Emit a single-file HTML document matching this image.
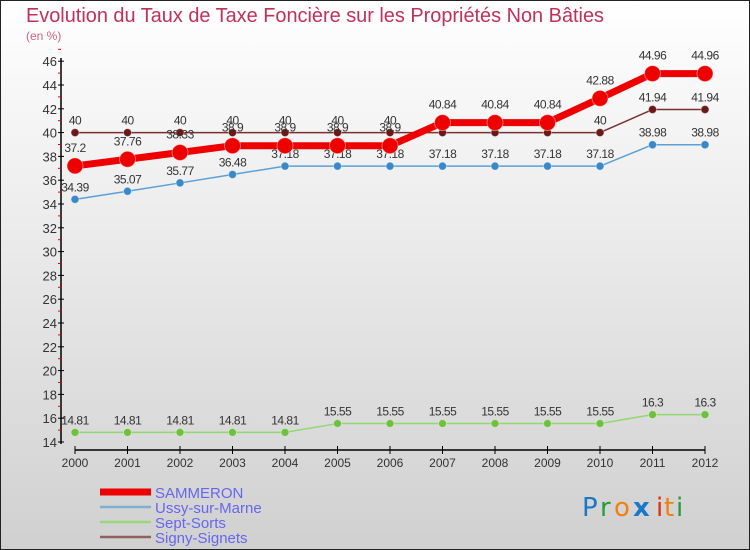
<!DOCTYPE html>
<html><head><meta charset="utf-8"><style>
html,body{margin:0;padding:0}
body{width:750px;height:550px;overflow:hidden;font-family:"Liberation Sans",sans-serif}
</style></head><body>
<svg id="chart" width="750" height="550" xmlns="http://www.w3.org/2000/svg" style="display:block">
<defs><linearGradient id="bg" x1="0" y1="0" x2="0" y2="1"><stop offset="0" stop-color="#ffffff"/><stop offset="1" stop-color="#d0d0d0"/></linearGradient></defs>
<rect x="0.5" y="0.5" width="749" height="549" fill="url(#bg)" stroke="#222"/>
<text x="26" y="22" font-size="20" fill="#c0305a" textLength="578" lengthAdjust="spacingAndGlyphs">Evolution du Taux de Taxe Foncière sur les Propriétés Non Bâties</text>
<text x="26" y="40" font-size="12" fill="#d06080">(en %)</text>
<g id="axes"></g><g id="series"></g><g id="legend"></g>
<g font-size="26" font-family="'DejaVu Sans',sans-serif">
<text x="582" y="516" fill="#1a78c8">P</text><text x="600" y="516" fill="#2a9a3a">r</text><text x="614" y="516" fill="#f08010">o</text><text x="633" y="516" fill="#1a78c8" font-weight="bold">x</text><text x="656" y="516" fill="#e03010">i</text><text x="664" y="516" fill="#f08010">t</text><text x="676" y="516" fill="#2a9a3a">i</text>
</g>
</svg>
<script>
const years=[2000,2001,2002,2003,2004,2005,2006,2007,2008,2009,2010,2011,2012];
const sammeron=[37.2,37.76,38.33,38.9,38.9,38.9,38.9,40.84,40.84,40.84,42.88,44.96,44.96];
const ussy=[34.39,35.07,35.77,36.48,37.18,37.18,37.18,37.18,37.18,37.18,37.18,38.98,38.98];
const sept=[14.81,14.81,14.81,14.81,14.81,15.55,15.55,15.55,15.55,15.55,15.55,16.3,16.3];
const signy=[40,40,40,40,40,40,40,40,40,40,40,41.94,41.94];
const yTicks=[14,16,18,20,22,24,26,28,30,32,34,36,38,40,42,44,46];
const NS="http://www.w3.org/2000/svg";
const x=i=>75+i*52.5;
const y=v=>442-(v-14)*11.9;
function mk(tag,attrs,parent){const e=document.createElementNS(NS,tag);for(const k in attrs)e.setAttribute(k,attrs[k]);parent.appendChild(e);return e;}
const ax=document.getElementById('axes');
let l=mk('line',{x1:61,y1:58,x2:61,y2:444,stroke:'#000','stroke-width':1.5},ax);


l=mk('line',{x1:75,y1:450,x2:705,y2:450,stroke:'#000','stroke-width':1.5},ax);


yTicks.forEach(v=>{
  mk('line',{x1:58,y1:y(v),x2:64,y2:y(v),stroke:'#000'},ax);
  mk('line',{x1:58,y1:y(v+1),x2:61,y2:y(v+1),stroke:'#e00'},ax);
  const t=mk('text',{x:57,y:y(v)+5,'text-anchor':'end','font-size':13,fill:'#333'},ax);
  t.textContent=v;
  
  
});
years.forEach((yr,i)=>{
  mk('line',{x1:x(i),y1:446,x2:x(i),y2:454,stroke:'#000'},ax);
  const t=mk('text',{x:x(i),y:467,'text-anchor':'middle','font-size':12,fill:'#333'},ax);
  t.textContent=yr;
  
  
});
const sg=document.getElementById('series');
function series(name,data,color,w,r,ptColor,labelDy){
  const g=mk('g',{},sg);
  
  
  const p=mk('polyline',{points:data.map((v,i)=>x(i)+','+y(v)).join(' '),fill:'none',stroke:color,'stroke-width':w,'stroke-linejoin':'round'},g);
  
  
  data.forEach((v,i)=>{
    const c=mk('circle',{cx:x(i),cy:y(v),r:r,fill:ptColor,stroke:'#fff','stroke-opacity':0.4},g);
    
    
    const t=mk('text',{x:x(i),y:y(v)+labelDy,'text-anchor':'middle','font-size':12,fill:'#333','letter-spacing':'-0.5'},g);
    t.textContent=v;
    
    
  });
}
series('signy-signets',signy,'#7a3030',1.5,4,'#6a1818',-8);
series('ussy-sur-marne',ussy,'#5aa0d8',1.5,4,'#3a88c8',-8);
series('sept-sorts',sept,'#90d870',1.5,4,'#70c040',-8);
series('sammeron',sammeron,'#ee0000',7,8,'#ee0000',-14);
const lg=document.getElementById('legend');
[['SAMMERON','#ee0000',7],['Ussy-sur-Marne','#80b0d0',2.5],['Sept-Sorts','#98d878',2.5],['Signy-Signets','#906060',2.5]].forEach((d,i)=>{
  const yy=492+i*15;
  const ln=mk('line',{x1:100,y1:yy,x2:151,y2:yy,stroke:d[1],'stroke-width':d[2]},lg);
  
  
  const t=mk('text',{x:155,y:yy+6,'font-size':15,fill:'#6666ee'},lg);
  t.textContent=d[0];
  
  
});
</script>
</body></html>
